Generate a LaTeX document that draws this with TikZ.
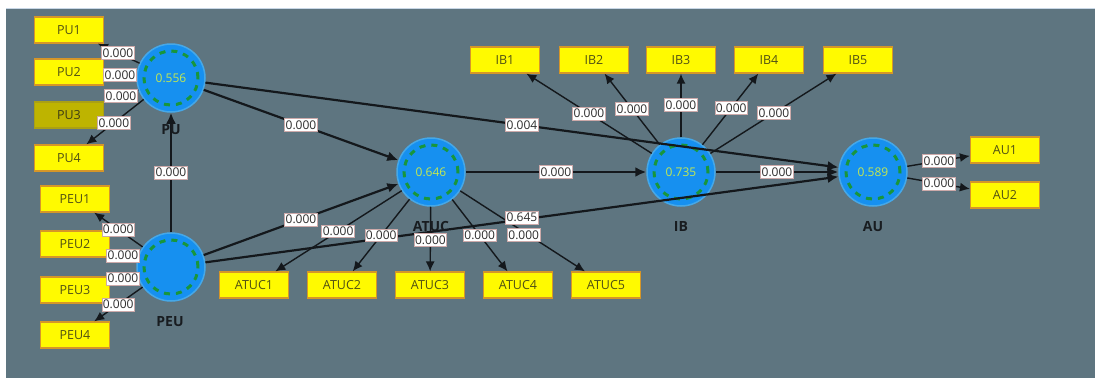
\documentclass[tikz,border=0pt]{standalone}
\usepackage{fontspec}
\setmainfont{Open Sans}
\usetikzlibrary{arrows.meta,calc}
\definecolor{bg}{RGB}{94,117,128}
\definecolor{cfill}{RGB}{22,144,240}
\definecolor{cborder}{RGB}{70,168,232}
\definecolor{cval}{RGB}{196,232,80}
\definecolor{cring}{RGB}{24,150,60}
\definecolor{ifill}{RGB}{255,250,0}
\definecolor{iborder}{RGB}{214,150,40}
\definecolor{itext}{RGB}{80,80,20}
\definecolor{ifilldim}{RGB}{190,180,0}
\definecolor{iborderdim}{RGB}{170,160,20}
\definecolor{itextdim}{RGB}{60,60,20}
\definecolor{lborder}{RGB}{205,170,170}
\definecolor{ltext}{RGB}{45,45,45}
\definecolor{edgecol}{RGB}{20,24,28}
\definecolor{namecol}{RGB}{24,28,32}
\definecolor{topline}{RGB}{200,215,230}
\tikzset{
  construct/.style={circle, draw=cborder, line width=1.5pt, fill=cfill, minimum size=68pt, inner sep=0pt, text=cval, font=\fontsize{12}{13}\selectfont},
  ringst/.style={draw=cring, line width=3pt, dash pattern=on 6pt off 6pt},
  indic/.style={rectangle, draw=iborder, line width=1.2pt, fill=ifill, minimum width=69pt, minimum height=26pt, inner sep=0pt, text=itext, font=\fontsize{12.5}{14}\selectfont},
  indicdim/.style={indic, fill=ifilldim, draw=iborderdim, text=itextdim},
  lbl/.style={rectangle, draw=lborder, line width=0.6pt, fill=white, inner xsep=1pt, inner ysep=2pt, text=ltext, font=\fontsize{12}{13}\selectfont},
  cnamest/.style={font=\bfseries\fontsize{14}{16}\selectfont, text=namecol},
  spath/.style={draw=edgecol, line width=2.2pt, -{Latex[length=11pt,width=10pt]}},
  load/.style={draw=edgecol, line width=1.4pt, -{Latex[length=10pt,width=9pt]}}
}
\begin{document}
\begin{tikzpicture}[x=1pt,y=-1pt]
\useasboundingbox (0,0) rectangle (1095,378);
\fill[white] (0,0) rectangle (1095,378);
\fill[bg] (6,8) rectangle (1095,378);
\draw[topline, line width=1pt] (6,8.5) -- (1095,8.5);

% constructs
\node[construct] (PU) at (171,78) {0.556};
\node[construct] (PEU) at (171,267) {};
\node[construct] (ATUC) at (431,172) {0.646};
\node[construct] (IB) at (681,172) {0.735};
\node[construct] (AU) at (873,172) {0.589};
\foreach \c in {PU,PEU,ATUC,IB,AU} {\draw[ringst] (\c) circle (27pt);}

% indicators
\node[indic] (PU1) at (69,30) {PU1};
\node[indic] (PU2) at (69,72) {PU2};
\node[indicdim] (PU3) at (69,115) {PU3};
\node[indic] (PU4) at (69,158) {PU4};
\node[indic] (PEU1) at (75,199) {PEU1};
\node[indic] (PEU2) at (75,244) {PEU2};
\node[indic] (PEU3) at (75,290) {PEU3};
\node[indic] (PEU4) at (75,335) {PEU4};
\node[indic] (ATUC1) at (254,285) {ATUC1};
\node[indic] (ATUC2) at (342,285) {ATUC2};
\node[indic] (ATUC3) at (430,285) {ATUC3};
\node[indic] (ATUC4) at (518,285) {ATUC4};
\node[indic] (ATUC5) at (606,285) {ATUC5};
\node[indic] (IB1) at (505,60) {IB1};
\node[indic] (IB2) at (594,60) {IB2};
\node[indic] (IB3) at (681,60) {IB3};
\node[indic] (IB4) at (769,60) {IB4};
\node[indic] (IB5) at (858,60) {IB5};
\node[indic] (AU1) at (1005,150) {AU1};
\node[indic] (AU2) at (1005,195) {AU2};

% structural paths
\draw[spath] (PEU) -- (PU);
\draw[spath] (PU) -- (ATUC);
\draw[spath] (PEU) -- (ATUC);
\draw[spath] (PU) -- (AU);
\draw[spath] (PEU) -- (AU);
\draw[spath] (ATUC) -- (IB);
\draw[spath] (IB) -- (AU);

% loadings
\foreach \i in {1,2,3,4} {\draw[load] (PU) -- (PU\i); \draw[load] (PEU) -- (PEU\i);}
\foreach \i in {1,...,5} {\draw[load] (ATUC) -- (ATUC\i); \draw[load] (IB) -- (IB\i);}
\foreach \i in {1,2} {\draw[load] (AU) -- (AU\i);}

% loading labels
\node[lbl] (lPU1) at ($(PU)!0.52!(PU1)$) {0.000};
\node[lbl] (lPU2) at ($(PU)!0.50!(PU2)$) {0.000};
\node[lbl] (lPU3) at ($(PU)!0.49!(PU3)$) {0.000};
\node[lbl] (lPU4) at ($(PU)!0.56!(PU4)$) {0.000};
\node[lbl] (lPEU1) at ($(PEU)!0.55!(PEU1)$) {0.000};
\node[lbl] (lPEU2) at ($(PEU)!0.50!(PEU2)$) {0.000};
\node[lbl] (lPEU3) at ($(PEU)!0.50!(PEU3)$) {0.000};
\node[lbl] (lPEU4) at ($(PEU)!0.55!(PEU4)$) {0.000};
\node[lbl] (lATUC1) at ($(ATUC)!0.525!(ATUC1)$) {0.000};
\node[lbl] (lATUC2) at ($(ATUC)!0.56!(ATUC2)$) {0.000};
\node[lbl] (lATUC3) at ($(ATUC)!0.60!(ATUC3)$) {0.000};
\node[lbl] (lATUC4) at ($(ATUC)!0.56!(ATUC4)$) {0.000};
\node[lbl] (lIB1) at ($(IB)!0.523!(IB1)$) {0.000};
\node[lbl] (lIB2) at ($(IB)!0.563!(IB2)$) {0.000};
\node[lbl] (lIB3) at ($(IB)!0.60!(IB3)$) {0.000};
\node[lbl] (lIB4) at ($(IB)!0.57!(IB4)$) {0.000};
\node[lbl] (lIB5) at ($(IB)!0.525!(IB5)$) {0.000};
\node[lbl] (lAU1) at ($(AU)!0.5!(AU1)$) {0.000};
\node[lbl] (lAU2) at ($(AU)!0.5!(AU2)$) {0.000};

% structural labels
\node[lbl] (lPEUPU) at ($(PEU)!0.5!(PU)$) {0.000};
\node[lbl] (lPUATUC) at ($(PU)!0.5!(ATUC)$) {0.000};
\node[lbl] (lPEUATUC) at ($(PEU)!0.5!(ATUC)$) {0.000};
\node[lbl] (lPUAU) at ($(PU)!0.5!(AU)$) {0.004};
\node[lbl] (lATUCIB) at ($(ATUC)!0.5!(IB)$) {0.000};
\node[lbl] (lIBAU) at ($(IB)!0.5!(AU)$) {0.000};
\node[lbl] (lPEUAU) at ($(PEU)!0.5!(AU)+(0,-2)$) {0.645};
\node[lbl] (lATUC5) at ($(ATUC)!0.53!(ATUC5)+(0,3)$) {0.000};

% construct names
\node[cnamest] (nPU) at (171,130) {PU};
\node[cnamest] (nPEU) at (170,322) {PEU};
\node[cnamest] (nATUC) at (431,226) {ATUC};
\node[cnamest] (nIB) at (681,226) {IB};
\node[cnamest] (nAU) at (873,227) {AU};
\end{tikzpicture}
\end{document}
